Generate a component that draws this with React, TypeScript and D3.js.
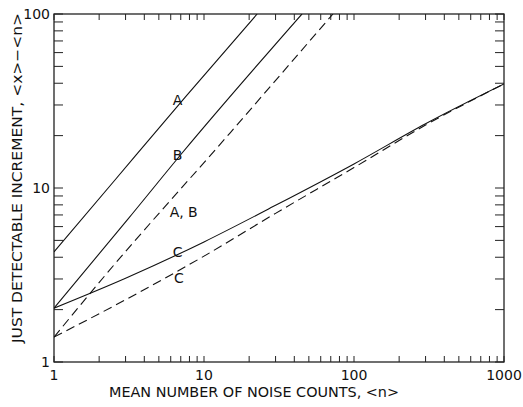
import React from 'react';
import * as d3 from 'd3';

// curve values: [mean noise counts, increment]
const curveA: [number, number][] = [[1, 4.29], [2.5, 10.9], [7.5, 33.3], [22.6, 100]];
const curveB: [number, number][] = [[1, 2.04], [3.1, 6.6], [7.24, 16.1], [45, 100]];
const curveAB: [number, number][] = [[1, 1.39], [2.12, 3.04], [14.9, 20.7], [72.4, 100]];
const curveC: [number, number][] = [[1, 2.04], [3, 3.03], [10, 4.9], [30, 7.95], [100, 13.75], [300, 23.4], [1000, 39.6]];
const curveCdash: [number, number][] = [[1, 1.39], [3, 2.28], [10, 4.06], [30, 7.15], [100, 13.1], [300, 23.0], [1000, 39.6]];

const xTickLabels = [1, 10, 100, 1000];
const yTickLabels = [1, 10, 100];

const curveLabels = [
  { text: 'A', n: 6.2, v: 30 },
  { text: 'B', n: 6.2, v: 14.5 },
  { text: 'A, B', n: 5.9, v: 6.8 },
  { text: 'C', n: 6.2, v: 4.0 },
  { text: 'C', n: 6.3, v: 2.84 },
];

const W = 523;
const H = 407;
const left = 54, right = 504, top = 14, bottom = 362;

export default function App() {
  const x = d3.scaleLog().domain([1, 1000]).range([left, right]);
  const y = d3.scaleLog().domain([1, 100]).range([bottom, top]);

  const line = d3.line<[number, number]>()
    .x(d => x(d[0]))
    .y(d => y(d[1]))
    .curve(d3.curveMonotoneX);

  const xt = x.ticks();
  const yt = y.ticks();
  const font = "'DejaVu Sans', sans-serif";

  return (
    <svg width={W} height={H} style={{ position: 'absolute', left: 0, top: 0, background: '#fff' }}>
      <defs>
        <clipPath id="plot">
          <rect x={left} y={top} width={right - left} height={bottom - top} />
        </clipPath>
      </defs>

      {/* frame */}
      <rect x={left} y={top} width={right - left} height={bottom - top}
        fill="none" stroke="#222" strokeWidth={1.3} />

      {/* inward ticks on all four sides */}
      {xt.map((t, i) => (
        <g key={'xt' + i} stroke="#222" strokeWidth={1}>
          <line x1={x(t)} x2={x(t)} y1={bottom} y2={bottom - 6} />
          <line x1={x(t)} x2={x(t)} y1={top} y2={top + 6} />
        </g>
      ))}
      {yt.map((t, i) => (
        <g key={'yt' + i} stroke="#222" strokeWidth={1}>
          <line x1={left} x2={left + 9} y1={y(t)} y2={y(t)} />
          <line x1={right} x2={right - 9} y1={y(t)} y2={y(t)} />
        </g>
      ))}

      {/* curves */}
      <g clipPath="url(#plot)" fill="none" stroke="#111" strokeWidth={1.1}>
        <path d={line(curveA) || ''} />
        <path d={line(curveB) || ''} />
        <path d={line(curveC) || ''} />
        <path d={line(curveAB) || ''} strokeDasharray="9,5" />
        <path d={line(curveCdash) || ''} strokeDasharray="9,5" />
      </g>

      {/* curve labels */}
      {curveLabels.map((l, i) => (
        <text key={'cl' + i} x={x(l.n)} y={y(l.v)} fontFamily={font} fontSize={14}
          fill="#111">{l.text}</text>
      ))}

      {/* tick labels */}
      {xTickLabels.map(t => (
        <text key={'xl' + t} x={x(t)} y={380} textAnchor="middle" fontFamily={font}
          fontSize={14} fill="#111">{t}</text>
      ))}
      {yTickLabels.map(t => (
        <text key={'yl' + t} x={left - 4} y={y(t)} dy="0.35em" textAnchor="end" fontFamily={font}
          fontSize={14} fill="#111">{t}</text>
      ))}

      {/* axis titles */}
      <text x={254} y={397} textAnchor="middle" fontFamily={font} fontSize={14}
        fill="#111" textLength={290} lengthAdjust="spacingAndGlyphs">
        MEAN NUMBER OF NOISE COUNTS, &lt;n&gt;
      </text>
      <text transform="translate(22,178) rotate(-90)" textAnchor="middle" fontFamily={font}
        fontSize={14} fill="#111" textLength={330} lengthAdjust="spacingAndGlyphs">
        JUST DETECTABLE INCREMENT, &lt;x&gt;−&lt;n&gt;
      </text>
    </svg>
  );
}
